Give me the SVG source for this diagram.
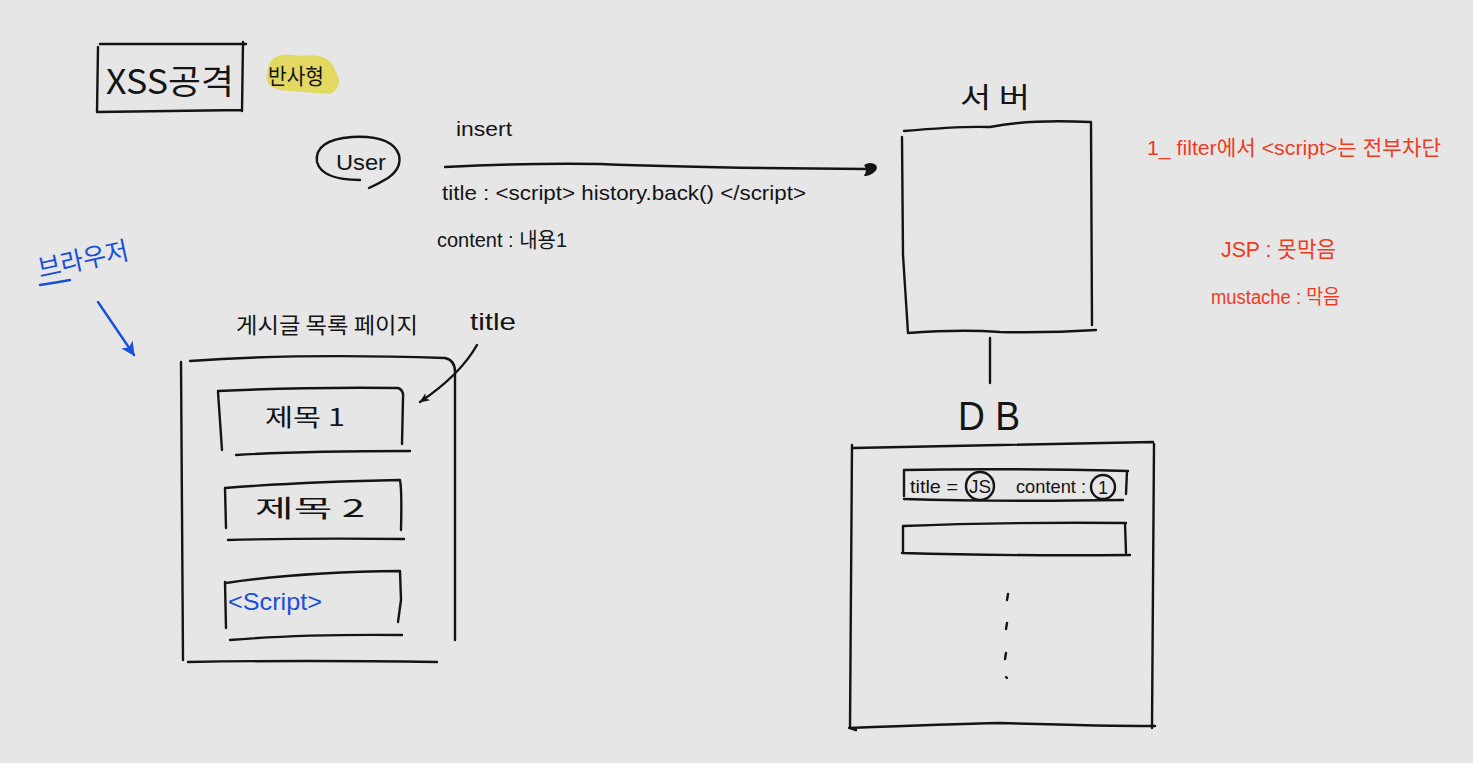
<svg xmlns="http://www.w3.org/2000/svg" width="1473" height="763" viewBox="0 0 1473 763">
<defs>
<style>
.ln{fill:none;stroke:#141414;stroke-width:2.4;stroke-linecap:round;stroke-linejoin:round}
.bl{fill:none;stroke:#1a4fd8;stroke-width:2.4;stroke-linecap:round}
.t{font-family:"Liberation Sans","Noto Sans CJK KR",sans-serif;fill:#141414}
.k{font-family:"Noto Sans CJK KR","Liberation Sans",sans-serif;fill:#141414}
.r{font-family:"Liberation Sans","Noto Sans CJK KR",sans-serif;fill:#ee3b1e}
.b{font-family:"Liberation Sans","Noto Sans CJK KR",sans-serif;fill:#1a4fd8}
</style>
<marker id="blob" viewBox="0 0 12 12" refX="4" refY="6" markerWidth="16" markerHeight="16" markerUnits="userSpaceOnUse" orient="auto">
<path d="M1,3 Q6,0 10,3 Q12,6 8,9 Q4,12 1,11 Q4,7 1,3 Z" fill="#141414"/>
</marker>
<marker id="blueHead" viewBox="0 0 14 14" refX="12" refY="7" markerWidth="16" markerHeight="16" markerUnits="userSpaceOnUse" orient="auto">
<path d="M1,1 L13,7 L1,13 L4,7 Z" fill="#1a4fd8"/>
</marker>
<marker id="blackHead" viewBox="0 0 14 14" refX="12" refY="7" markerWidth="12" markerHeight="12" markerUnits="userSpaceOnUse" orient="auto">
<path d="M1,2 L13,7 L1,12 L4,7 Z" fill="#141414"/>
</marker>
</defs>
<rect width="1473" height="763" fill="#e6e6e6"/>

<g id="title-box">
<path class="ln" d="M100,44 L246,44 M98,47 L97,112 M97,112 L242,110 M243,42 L242,111"/>
<text class="k" x="106" y="94" font-size="34" textLength="128" lengthAdjust="spacingAndGlyphs">XSS공격</text>
</g>

<g id="reflected-label">
<path d="M268,68 Q272,50 300,56 Q330,52 335,70 Q345,86 330,94 Q300,92 280,90 Q262,86 268,68 Z" fill="#e2d64a" opacity="0.85"/>
<text class="k" x="268" y="84" font-size="22" textLength="56" lengthAdjust="spacingAndGlyphs">반사형</text>
</g>

<g id="user">
<path class="ln" d="M360,180 Q322,180 317,162 Q314,140 352,137 Q392,135 399,155 Q402,168 388,178 Q378,184 369,188"/>
<text class="t" x="336" y="170" font-size="22" textLength="50" lengthAdjust="spacingAndGlyphs">User</text>
</g>

<g id="request-text">
<text class="t" x="456" y="136" font-size="20" textLength="56" lengthAdjust="spacingAndGlyphs">insert</text>
<text class="t" x="442" y="200" font-size="21" textLength="364" lengthAdjust="spacingAndGlyphs">title : &lt;script&gt; history.back() &lt;/script&gt;</text>
<text class="t" x="437" y="247" font-size="21" textLength="130" lengthAdjust="spacingAndGlyphs">content : 내용1</text>
</g>

<g id="server">
<text class="k" x="960" y="108" font-size="28" textLength="70" lengthAdjust="spacingAndGlyphs">서 버</text>
<path class="ln" d="M904,131 Q960,126 990,127 Q1030,119 1090,122 M902,137 L903,255 L908,333 M908,333 Q960,329 1000,332 Q1050,333 1096,330 M1091,122 L1092,325"/>
</g>

<g id="db">
<text class="t" x="958" y="430" font-size="40" textLength="62" lengthAdjust="spacingAndGlyphs">D B</text>
<path class="ln" d="M853,448 Q950,446 1000,445 Q1100,443 1153,442 M852,445 L850,728 L856,730 M849,728 Q950,724 1000,723 Q1100,726 1155,726 M1154,444 L1152,728"/>
<path class="ln" d="M904,470 Q1000,468 1128,471 M904,470 L904,496 M1127,471 L1126,494 M904,499 Q1000,502 1123,500"/>
<text class="t" x="910" y="493" font-size="19" textLength="48" lengthAdjust="spacingAndGlyphs">title =</text>
<circle class="ln" cx="980" cy="486" r="14"/>
<text class="t" x="969" y="493" font-size="18" textLength="22" lengthAdjust="spacingAndGlyphs">JS</text>
<text class="t" x="1016" y="493" font-size="19" textLength="70" lengthAdjust="spacingAndGlyphs">content :</text>
<circle class="ln" cx="1103" cy="487" r="12"/>
<text class="t" x="1098" y="494" font-size="18">1</text>
<path class="ln" d="M903,526 Q1000,522 1126,523 M903,526 L903,553 M1125,523 L1126,553 M902,553 Q1000,556 1130,555"/>
<path class="ln" stroke-width="3" d="M1008,594 L1007,600 M1007,623 L1006,629 M1006,653 L1005,659 M1006,677 L1007,678"/>
</g>

<g id="filter-notes">
<text class="r" x="1147" y="155" font-size="21" textLength="294" lengthAdjust="spacingAndGlyphs">1_ filter에서 &lt;script&gt;는 전부차단</text>
<text class="r" x="1221" y="257" font-size="22" textLength="115" lengthAdjust="spacingAndGlyphs">JSP : 못막음</text>
<text class="r" x="1211" y="304" font-size="20" textLength="129" lengthAdjust="spacingAndGlyphs">mustache : 막음</text>
</g>

<g id="browser-label">
<text class="b" x="40" y="278" font-size="26" textLength="92" lengthAdjust="spacingAndGlyphs" transform="rotate(-12 40 278)">브라우저</text>
<path class="bl" d="M40,285 Q60,282 70,280"/>
</g>

<g id="board-page">
<text class="k" x="236" y="333" font-size="22" textLength="182" lengthAdjust="spacingAndGlyphs">게시글 목록 페이지</text>
<text class="t" x="470" y="330" font-size="24" textLength="46" lengthAdjust="spacingAndGlyphs">title</text>
<path class="ln" d="M190,361 Q300,353 445,358 Q455,360 455,372 L455,640 M181,362 L183,660 M188,662 Q300,660 437,662"/>
<g id="item-1">
<path class="ln" d="M218,391 Q300,387 398,388 Q404,390 403,398 L402,444 M218,392 L222,450 M236,455 Q300,451 410,451"/>
<text class="k" x="265" y="426" font-size="24" textLength="80" lengthAdjust="spacingAndGlyphs">제목 1</text>
</g>
<g id="item-2">
<path class="ln" d="M225,488 Q300,482 400,480 Q402,490 401,530 M225,488 L226,528 M228,540 Q300,538 404,539"/>
<text class="k" x="255" y="517" font-size="24" textLength="110" lengthAdjust="spacingAndGlyphs">제목   2</text>
</g>
<g id="item-3">
<path class="ln" d="M226,583 Q300,572 400,571 L401,600 L398,622 M225,582 L226,628 M230,640 Q300,634 402,635"/>
<text class="b" x="228" y="610" font-size="24" textLength="94" lengthAdjust="spacingAndGlyphs">&lt;Script&gt;</text>
</g>
</g>

<g id="connectors">
<path class="ln" d="M445,167 Q520,163 600,164 Q700,168 868,169" stroke-width="2" marker-end="url(#blob)"/>
<path class="ln" d="M990,338 L990,383"/>
<path class="ln" d="M477,345 Q460,375 420,402" stroke-width="2" marker-end="url(#blackHead)"/>
<path class="bl" d="M98,302 L134,355" marker-end="url(#blueHead)"/>
</g>
</svg>
